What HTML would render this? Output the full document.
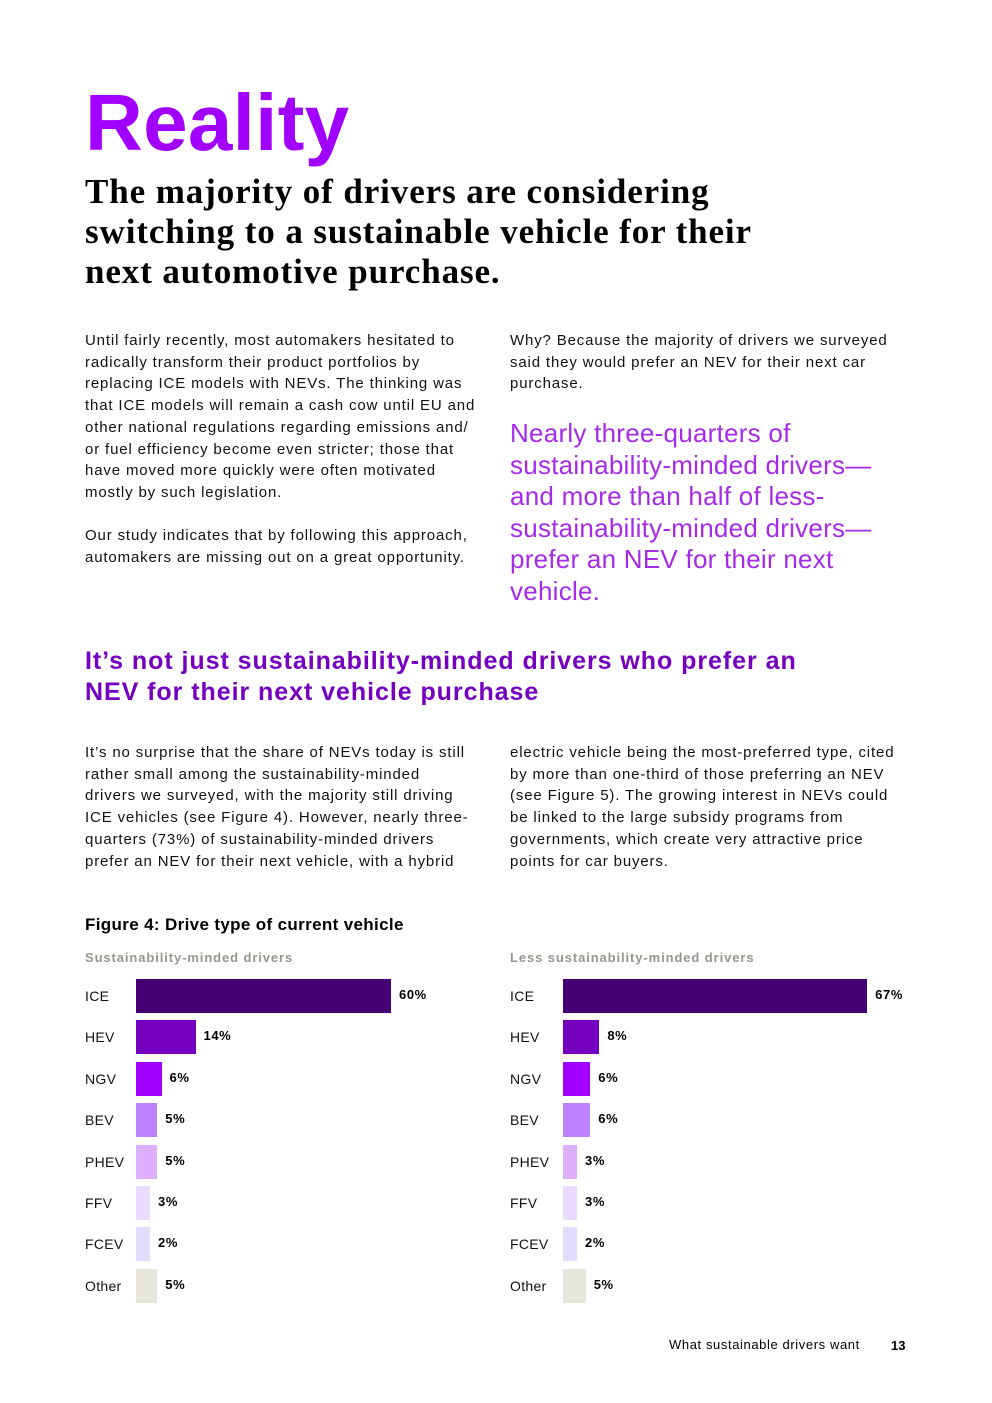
<!DOCTYPE html>
<html><head><meta charset="utf-8">
<style>
body{margin:0;width:992px;height:1403px;background:#fff;position:relative;font-family:"Liberation Sans",sans-serif;color:#000;overflow:hidden}
.a{position:absolute;white-space:nowrap}
.body{font-size:15px;line-height:21.7px;color:#111;letter-spacing:0.85px}
.q{font-size:26px;line-height:31.6px;color:#a52be8;font-weight:300;letter-spacing:0.25px}
.lab{font-size:14px;color:#111;letter-spacing:0.3px}
.val{font-size:13px;font-weight:bold;letter-spacing:0.6px}
</style></head><body>
<div class="a" style="left:85px;top:78px;font-size:80px;font-weight:bold;color:#a100ff;letter-spacing:0.3px;line-height:90px">Reality</div>
<div class="a" style="left:85px;top:172px;font-family:'Liberation Serif',serif;font-size:35px;font-weight:bold;line-height:40px;letter-spacing:0.9px">The majority of drivers are considering<br>switching to a sustainable vehicle for their<br>next automotive purchase.</div>

<div class="a body" style="left:85px;top:330px">Until fairly recently, most automakers hesitated to<br>radically transform their product portfolios by<br>replacing ICE models with NEVs. The thinking was<br>that ICE models will remain a cash cow until EU and<br>other national regulations regarding emissions and/<br>or fuel efficiency become even stricter; those that<br>have moved more quickly were often motivated<br>mostly by such legislation.<br><br>Our study indicates that by following this approach,<br>automakers are missing out on a great opportunity.</div>
<div class="a body" style="left:510px;top:330px">Why? Because the majority of drivers we surveyed<br>said they would prefer an NEV for their next car<br>purchase.</div>
<div class="a q" style="left:510px;top:418px">Nearly three-quarters of<br>sustainability-minded drivers—<br>and more than half of less-<br>sustainability-minded drivers—<br>prefer an NEV for their next<br>vehicle.</div>

<div class="a" style="left:85px;top:646px;font-size:25px;line-height:30.5px;font-weight:bold;color:#7500c0;letter-spacing:0.95px">It’s not just sustainability-minded drivers who prefer an<br>NEV for their next vehicle purchase</div>

<div class="a body" style="left:85px;top:742px">It’s no surprise that the share of NEVs today is still<br>rather small among the sustainability-minded<br>drivers we surveyed, with the majority still driving<br>ICE vehicles (see Figure 4). However, nearly three-<br>quarters (73%) of sustainability-minded drivers<br>prefer an NEV for their next vehicle, with a hybrid</div>
<div class="a body" style="left:510px;top:742px">electric vehicle being the most-preferred type, cited<br>by more than one-third of those preferring an NEV<br>(see Figure 5). The growing interest in NEVs could<br>be linked to the large subsidy programs from<br>governments, which create very attractive price<br>points for car buyers.</div>

<div class="a" style="left:85px;top:915px;font-size:17px;font-weight:bold;letter-spacing:0.35px">Figure 4: Drive type of current vehicle</div>
<div class="a" style="left:85px;top:950px;font-size:13px;font-weight:bold;color:#96968c;letter-spacing:0.9px">Sustainability-minded drivers</div>
<div class="a" style="left:510px;top:950px;font-size:13px;font-weight:bold;color:#96968c;letter-spacing:0.9px">Less sustainability-minded drivers</div>

<div class="a" style="left:669px;top:1337px;font-size:13px;letter-spacing:0.6px">What sustainable drivers want</div>
<div class="a" style="left:891px;top:1338px;font-size:13px;font-weight:bold">13</div>

<script>
const categories=["ICE","HEV","NGV","BEV","PHEV","FFV","FCEV","Other"];
const sustainableValues=[60,14,6,5,5,3,2,5];
const lessSustainableValues=[67,8,6,6,3,3,2,5];
const colors=["#460073","#7500c0","#a100ff","#be82ff","#dcafff","#ebdcff","#e2dcff","#e6e6dc"];
function draw(values,labelX,barX,scale,prefix){
  categories.forEach((c,i)=>{
    const y=979+i*41.4;
    const l=document.createElement('div');
    l.className='a lab';l.style.left=labelX+'px';l.style.top=(y+9)+'px';l.textContent=c;
    
    
    document.body.appendChild(l);
    const w=Math.max(values[i]*scale,14);
    const b=document.createElement('div');
    b.className='a';b.style.left=barX+'px';b.style.top=y+'px';b.style.width=w+'px';b.style.height='34px';b.style.background=colors[i];
    
    
    document.body.appendChild(b);
    const v=document.createElement('div');
    v.className='a val';v.style.left=(barX+w+8)+'px';v.style.top=(y+8)+'px';v.textContent=values[i]+'%';
    
    
    document.body.appendChild(v);
  });
}
draw(sustainableValues,85,136,4.25,'left');
draw(lessSustainableValues,510,563,4.54,'right');
</script>
</body></html>
